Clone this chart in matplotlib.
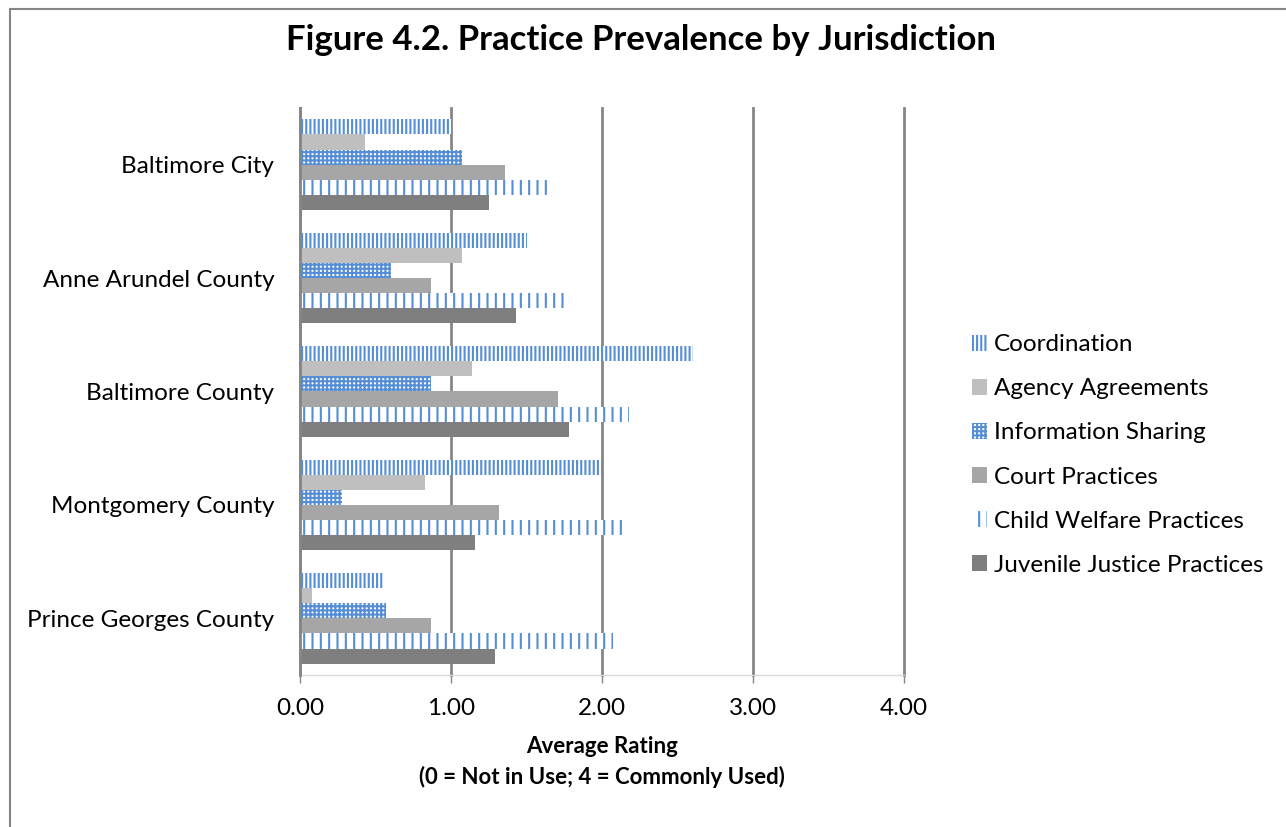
import numpy as np
import matplotlib
matplotlib.use('Agg')
import matplotlib.pyplot as plt
from matplotlib.patches import Rectangle

plt.rcParams['font.family'] = ['Lato', 'DejaVu Sans']
plt.rcParams['hatch.linewidth'] = 1.5

# 数据
jurisdictions = ['Baltimore City', 'Anne Arundel County', 'Baltimore County',
                 'Montgomery County', 'Prince Georges County']
series_names = ['Coordination', 'Agency Agreements', 'Information Sharing',
                'Court Practices', 'Child Welfare Practices', 'Juvenile Justice Practices']
coordination = [1.00, 1.50, 2.60, 2.00, 0.55]
agency_agreements = [0.43, 1.07, 1.14, 0.83, 0.08]
information_sharing = [1.07, 0.60, 0.87, 0.28, 0.57]
court_practices = [1.36, 0.87, 1.71, 1.32, 0.87]
child_welfare = [1.65, 1.76, 2.18, 2.13, 2.07]
juvenile_justice = [1.25, 1.43, 1.78, 1.16, 1.29]
xticks = [0, 1, 2, 3, 4]

values = [coordination, agency_agreements, information_sharing,
          court_practices, child_welfare, juvenile_justice]

blue = '#558ED5'
styles = [
    dict(color='white', edgecolor=blue, hatch='||||'),
    dict(color='#BFBFBF', edgecolor='#BFBFBF', hatch=None),
    dict(color='white', edgecolor=blue, hatch='++++'),
    dict(color='#A6A6A6', edgecolor='#A6A6A6', hatch=None),
    dict(color='white', edgecolor=blue, hatch='||'),
    dict(color='#7F7F7F', edgecolor='#7F7F7F', hatch=None),
]

fig = plt.figure(figsize=(12.86, 8.27), dpi=100)
ax = fig.add_axes([300 / 1286, 1 - 675 / 827, 604 / 1286, 567 / 827])

y = np.arange(len(jurisdictions))
h = 0.8 / len(series_names)
for i, (name, vals, st) in enumerate(zip(series_names, values, styles)):
    pos = y - 0.4 + h * (i + 0.5)
    ax.barh(pos, vals, height=h, label=name, linewidth=0, zorder=3, **st)

ax.set_xlim(0, 4)
ax.set_ylim(4.5, -0.5)
ax.set_xticks(xticks)
ax.set_xticklabels([f'{v:.2f}' for v in xticks], fontsize=17.5)
ax.set_yticks(y)
ax.set_yticklabels(jurisdictions, fontsize=17.5)
ax.tick_params(axis='y', length=0, pad=18.5)
ax.tick_params(axis='x', length=5.8, width=1, color='#868686', pad=11)

ax.grid(axis='x', color='#868686', linewidth=2, zorder=1)
for gl in ax.get_xgridlines():
    gl.set_clip_on(False)
for s in ['top', 'right']:
    ax.spines[s].set_visible(False)
ax.spines['left'].set_color('#868686')
ax.spines['left'].set_linewidth(2)
ax.spines['left'].set_zorder(4)
ax.spines['bottom'].set_color('#D9D9D9')
ax.spines['bottom'].set_linewidth(1)

fig.text(641 / 1286, 1 - 40 / 827, 'Figure 4.2. Practice Prevalence by Jurisdiction',
         ha='center', va='center', fontsize=25, fontweight='bold')
ax.set_xlabel('Average Rating\n(0 = Not in Use; 4 = Commonly Used)',
              fontsize=16, fontweight='bold', labelpad=12, linespacing=1.5)

leg = ax.legend(loc='center left', bbox_to_anchor=(972 / 1286, 1 - 455 / 827),
                bbox_transform=fig.transFigure, frameon=False, fontsize=17.5,
                handlelength=0.62, handleheight=0.62, handletextpad=0.3,
                labelspacing=0.95, borderpad=0, borderaxespad=0)

fig.patches.append(Rectangle((10 / 1286, -0.05), 1.1, 1.05 - 9 / 827,
                             transform=fig.transFigure, fill=False,
                             edgecolor='#868686', linewidth=1.5))

fig.savefig('out.png', dpi=100)
